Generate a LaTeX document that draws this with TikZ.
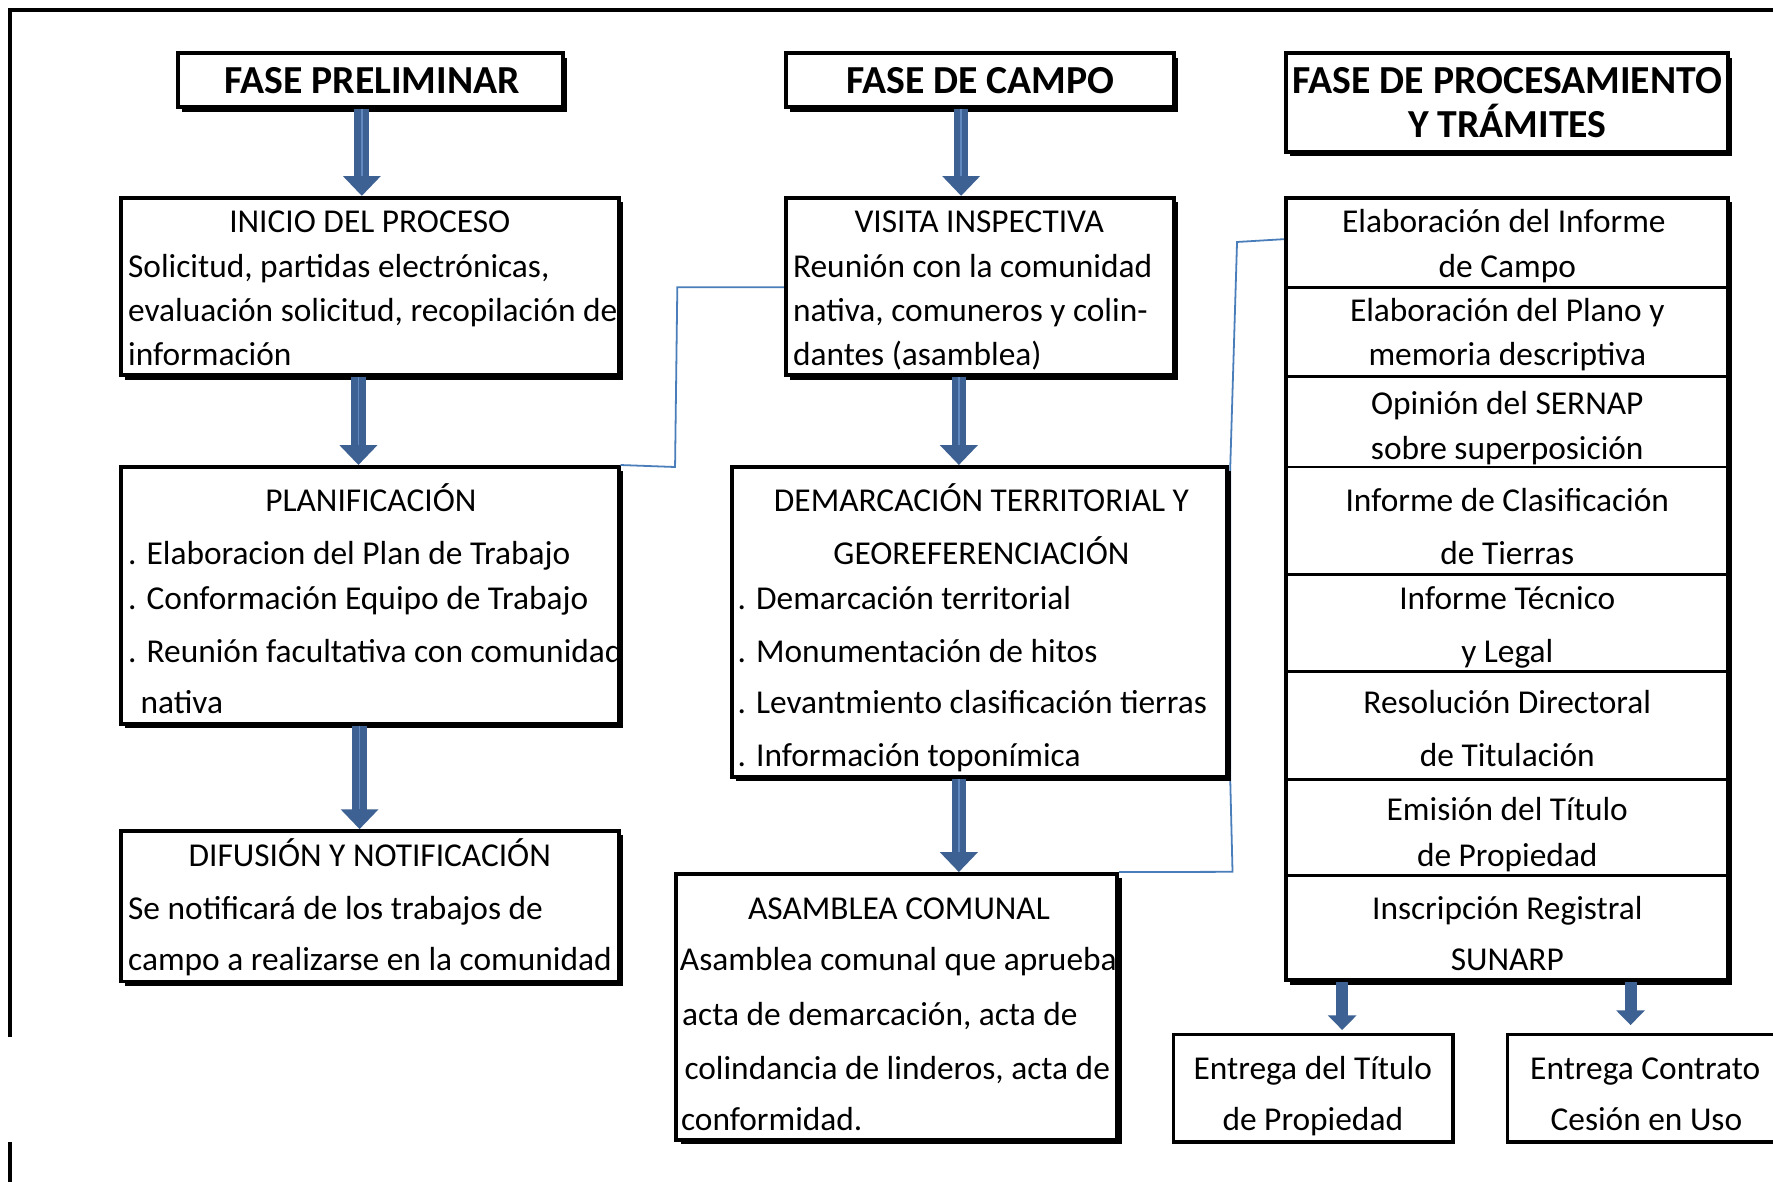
\documentclass[tikz,border=0pt]{standalone}
\usepackage{fontspec}
\setmainfont{Carlito}
\usetikzlibrary{arrows.meta,fit,shadows,calc}
\definecolor{arrowblue}{HTML}{3D6192}
\definecolor{arrowlight}{HTML}{6189BF}
\definecolor{linkblue}{HTML}{4A7EBB}
\tikzset{
  sbox/.style={draw=black, line width=2pt, fill=white, inner sep=0pt,
    general shadow={fill=black, shadow xshift=2.2pt, shadow yshift=-2.2pt}},
  pbox/.style={draw=black, line width=1.6pt, fill=white, inner sep=0pt},
  cellbox/.style={draw=black, line width=1.5pt, inner sep=0pt},
  ttl/.style={font=\fontsize{20}{24}\selectfont\bfseries, anchor=base, inner sep=0pt},
  tc/.style={font=\fontsize{16.8}{20}\selectfont, anchor=base, inner sep=0pt},
  tl/.style={font=\fontsize{16.8}{20}\selectfont, anchor=base west, inner sep=0pt},
  bigarrow/.style={draw=arrowblue, line width=7.4pt, -{Triangle[width=18.5pt,length=10pt]}},
  smallarrow/.style={draw=arrowblue, line width=6pt, -{Triangle[width=14pt,length=7.4pt]}},
  stripe/.style={draw=arrowlight, line width=0.8pt},
  link/.style={draw=linkblue, line width=0.9pt},
  frame/.style={draw=black, line width=1.7pt},
}
\newcommand\myarrow[3]{%
  \draw[bigarrow] (#1,0 |- #2) -- (#1,0 |- #3);
  \draw[stripe] (#1,0 |- #2) -- ($(#1,0 |- #3)+(0,-18)$);
}
\begin{document}
\begin{tikzpicture}[x=0.02cm,y=-0.02cm]
\useasboundingbox (0,0) rectangle (1568,1045);
\clip (0,0) rectangle (1568,1045);
\fill[white] (0,0) rectangle (1568,1045);

% outer frame
\draw[frame] (9,917) -- (9,9) -- (1590,9);
\draw[frame] (9,1010) -- (9,1060);

% bend points of the thin blue connectors
\coordinate (l1a) at (599,254);
\coordinate (l1b) at (597,413);
\coordinate (l2a) at (1094,214);
\coordinate (l2b) at (1088,413);
\coordinate (l2c) at (1088,690);
\coordinate (l2d) at (1090,771);

% ---- column 1 ----
\node[sbox, fit={(157,47) (498,95)}] (fp) {};
\node[ttl] (fpT) at (329,83) {FASE PRELIMINAR};

\node[sbox, fit={(107,175) (547,332)}] (inicio) {};
\begin{scope}
\clip (inicio.south west) rectangle (inicio.north east);
\node[tc] (ini0) at (327,206) {INICIO DEL PROCESO};
\node[tl] (ini1) at (113,245) {Solicitud, partidas electrónicas,};
\node[tl] (ini2) at (113,284) {evaluación solicitud, recopilación de};
\node[tl] (ini3) at (113,323) {información};
\end{scope}

\node[sbox, fit={(107,413) (547,640)}] (plan) {};
\begin{scope}
\clip (plan.south west) rectangle (plan.north east);
\node[tc] (pl0) at (328,452) {PLANIFICACIÓN};
\node[tl] (pl1) at (113,499) {. Elaboracion del Plan de Trabajo};
\node[tl] (pl2) at (113,539) {. Conformación Equipo de Trabajo};
\node[tl] (pl3) at (113,586) {. Reunión facultativa con comunidad};
\node[tl] (pl4) at (124,631) {nativa};
\end{scope}

\node[sbox, fit={(107,735) (547,868)}] (dif) {};
\node[tc] (df0) at (327,766) {DIFUSIÓN Y NOTIFICACIÓN};
\node[tl] (df1) at (113,813) {Se notificará de los trabajos de};
\node[tl] (df2) at (113,858) {campo a realizarse en la comunidad};

% ---- column 2 ----
\node[sbox, fit={(695,47) (1038,95)}] (fc) {};
\node[ttl] (fcT) at (867,83) {FASE DE CAMPO};

\draw[link] (plan.north east) -- (l1b) -- (l1a) -- (695,254);

\node[sbox, fit={(695,175) (1038,332)}] (visita) {};
\node[tc] (vi0) at (866,206) {VISITA INSPECTIVA};
\node[tl] (vi1) at (701,245) {Reunión con la comunidad};
\node[tl] (vi2) at (701,284) {nativa, comuneros y colin-};
\node[tl] (vi3) at (701,323) {dantes (asamblea)};

\node[sbox, fit={(598,773) (988,1008)}] (asam) {};
\node[tc] (as0) at (795,813) {ASAMBLEA COMUNAL};
\node[tl] (as1) at (601,858) {Asamblea comunal que aprueba};
\node[tl] (as2) at (603,907) {acta de demarcación, acta de};
\node[tl] (as3) at (605,955) {colindancia de linderos, acta de};
\node[tl] (as4) at (602,1000) {conformidad.};

% ---- column 3 ----
\node[sbox, fit={(1137,47) (1528,134)}] (fpt) {};
\node[ttl] (fptT1) at (1333,83) {FASE DE PROCESAMIENTO};
\node[ttl] (fptT2) at (1333,122) {Y TRÁMITES};

\node[sbox, fit={(1137,175) (1528,867)}] (stack) {};
\node[cellbox, fit={(1137,175) (1528,254)}] (c1) {};
\node[cellbox, fit={(1137,254) (1528,333)}] (c2) {};
\node[cellbox, fit={(1137,333) (1528,413)}] (c3) {};
\node[cellbox, fit={(1137,413) (1528,508)}] (c4) {};
\node[cellbox, fit={(1137,508) (1528,594)}] (c5) {};
\node[cellbox, fit={(1137,594) (1528,689)}] (c6) {};
\node[cellbox, fit={(1137,689) (1528,774)}] (c7) {};
\node[cellbox, fit={(1137,774) (1528,867)}] (c8) {};

\draw[link] ($(c1.west)+(0,-3)$) -- (l2a) -- (l2b) -- (l2c) -- (l2d) -- (asam.north east);

\node[sbox, fit={(647,413) (1085,687)}] (dem) {};
\node[tc] (dm0) at (868,452) {DEMARCACIÓN TERRITORIAL Y};
\node[tc] (dm1) at (868,499) {GEOREFERENCIACIÓN};
\node[tl] (dm2) at (652,539) {. Demarcación territorial};
\node[tl] (dm3) at (652,586) {. Monumentación de hitos};
\node[tl] (dm4) at (652,631) {. Levantmiento clasificación tierras};
\node[tl] (dm5) at (652,678) {. Información toponímica};

\node[tc] (c1a) at (1330,206) {Elaboración del Informe};
\node[tc] (c1b) at (1333,245) {de Campo};
\node[tc] (c2a) at (1333,284) {Elaboración del Plano y};
\node[tc] (c2b) at (1333,323) {memoria descriptiva};
\node[tc] (c3a) at (1333,367) {Opinión del SERNAP};
\node[tc] (c3b) at (1333,406) {sobre superposición};
\node[tc] (c4a) at (1333,452) {Informe de Clasificación};
\node[tc] (c4b) at (1333,499) {de Tierras};
\node[tc] (c5a) at (1333,539) {Informe Técnico};
\node[tc] (c5b) at (1333,586) {y Legal};
\node[tc] (c6a) at (1333,631) {Resolución Directoral};
\node[tc] (c6b) at (1333,678) {de Titulación};
\node[tc] (c7a) at (1333,726) {Emisión del Título};
\node[tc] (c7b) at (1333,766) {de Propiedad};
\node[tc] (c8a) at (1333,813) {Inscripción Registral};
\node[tc] (c8b) at (1333,858) {SUNARP};

\node[pbox, fit={(1038,915) (1285,1010)}] (e1) {};
\node[tc] (e1a) at (1161,955) {Entrega del Título};
\node[tc] (e1b) at (1161,1000) {de Propiedad};
\node[pbox, fit={(1333,915) (1600,1010)}] (e2) {};
\node[tc] (e2a) at (1455,955) {Entrega Contrato};
\node[tc] (e2b) at (1456,1000) {Cesión en Uso};

% ---- block arrows ----
\myarrow{320}{fp.south}{inicio.north}
\myarrow{317}{inicio.south}{plan.north}
\myarrow{318}{plan.south}{dif.north}
\myarrow{850}{fc.south}{visita.north}
\myarrow{848}{visita.south}{dem.north}
\myarrow{848}{dem.south}{asam.north}
\draw[smallarrow, shorten >=1.5pt] (1187,0 |- stack.south) -- (1187,0 |- e1.north);
\draw[smallarrow, shorten >=4pt] (1442,0 |- stack.south) -- (1442,0 |- e2.north);
\end{tikzpicture}
\end{document}
